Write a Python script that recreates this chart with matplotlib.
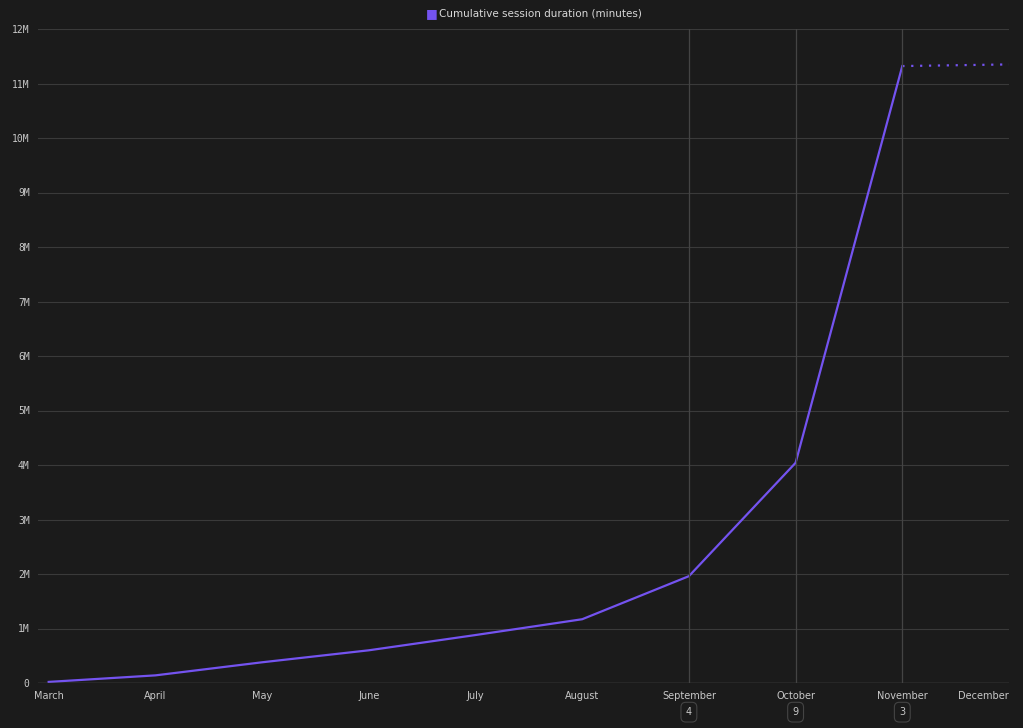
import matplotlib.pyplot as plt
import numpy as np

months = ['March', 'April', 'May', 'June', 'July', 'August',
          'September', 'October', 'November', 'December']
values = [0.02, 0.14, 0.38, 0.60, 0.88, 1.17, 1.96, 4.04, 11.32, 11.35]
marked_months = ['September', 'October', 'November']
marked_counts = ['4', '9', '3']

BG = '#1b1b1b'
GRID = '#3a3a3a'
TXT = '#c8c8c8'
LINE = '#7453f0'

fig = plt.figure(figsize=(10.23, 7.28), dpi=100, facecolor=BG)
ax = fig.add_axes([38 / 1023, 1 - 683 / 728, (1009 - 38) / 1023, (683 - 29) / 728])
ax.set_facecolor(BG)
x = np.arange(len(months))
ax.plot(x[:9], values[:9], color=LINE, linewidth=1.6)
ax.plot(x[8:], values[8:], color=LINE, linewidth=1.6, linestyle=(0, (1, 3)))

ax.set_xlim(-0.1, len(months) - 1)
ax.set_ylim(0, 12)
ax.set_yticks(range(13))
ax.set_yticklabels(['0'] + [f'{i}M' for i in range(1, 13)], family='DejaVu Sans Mono')
ax.set_xticks(x)
ax.set_xticklabels(months)
ax.get_xticklabels()[-1].set_ha('right')
ax.tick_params(colors=TXT, labelsize=7, length=0, pad=6)
ax.grid(axis='y', color=GRID, linewidth=0.8)
for s in ax.spines.values():
    s.set_visible(False)
ax.axhline(0, color='#555555', linewidth=1)

for m, c in zip(marked_months, marked_counts):
    i = months.index(m)
    ax.axvline(i, color='#444444', linewidth=0.9)
    ax.annotate(c, (i, 0), xytext=(0, -21), textcoords='offset points', ha='center', va='center',
                color=TXT, fontsize=7, annotation_clip=False,
                bbox=dict(boxstyle='round,pad=0.5', fc=BG, ec='#444444', lw=0.8))

fig.text(426 / 1023, 1 - 14 / 728, '\u25a0', color=LINE, fontsize=9, ha='left', va='center')
fig.text(439 / 1023, 1 - 14 / 728, 'Cumulative session duration (minutes)', color='#d8d8d8',
         fontsize=7.5, ha='left', va='center')

fig.savefig('out.png', facecolor=BG)
